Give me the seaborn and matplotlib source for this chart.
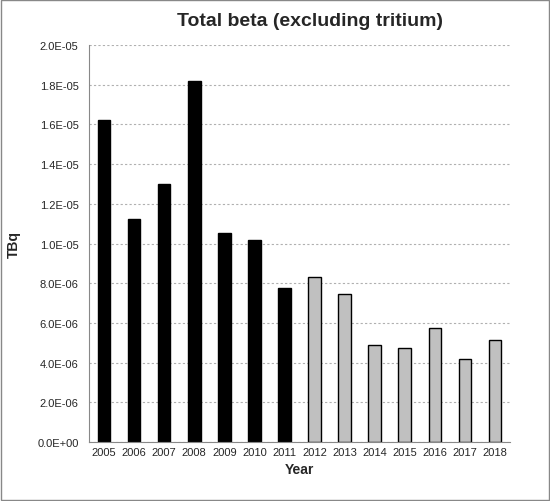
import matplotlib
matplotlib.use("Agg")
import matplotlib.pyplot as plt
import seaborn as sns
import pandas as pd
from matplotlib.ticker import FuncFormatter

years = ["2005","2006","2007","2008","2009","2010","2011","2012","2013","2014","2015","2016","2017","2018"]
values = [16.2e-6,11.25e-6,13.0e-6,18.2e-6,10.55e-6,10.2e-6,7.75e-6,8.3e-6,7.45e-6,4.9e-6,4.75e-6,5.75e-6,4.2e-6,5.15e-6]
group = ["a"]*7 + ["b"]*7

sns.set_style("white")
plt.rcParams['font.family'] = ['Liberation Sans', 'DejaVu Sans']
df = pd.DataFrame({"Year": years, "TBq": values, "g": group})

fig = plt.figure(figsize=(5.5, 5.02), dpi=100)
ax = fig.add_axes([89/550, 1-443/502, 421/550, 397/502])
sns.barplot(data=df, x="Year", y="TBq", hue="g", palette={"a": "black", "b": "#c0c0c0"},
            dodge=False, width=0.42, edgecolor="black", linewidth=1, legend=False, ax=ax)
ax.set_ylim(0, 2.0e-5)
ax.set_yticks([i*2e-6 for i in range(11)])
ax.yaxis.set_major_formatter(FuncFormatter(lambda v, p: f"{v:.1E}" if v else "0.0E+00"))
ax.yaxis.grid(True, linestyle=(0, (2, 2)), color="#b0b0b0", linewidth=0.8)
ax.set_axisbelow(True)
for s in ["top", "right"]:
    ax.spines[s].set_visible(False)
for s in ["left", "bottom"]:
    ax.spines[s].set_color("#888888")
ax.tick_params(axis="both", labelsize=8, length=4, color="#888888", direction="out")
ax.tick_params(axis="x", length=0)
ax.set_xticks([i - 0.5 for i in range(15)], minor=True)
ax.tick_params(axis="x", which="minor", length=5, color="#888888")
ax.set_xlim(-0.5, 13.5)
ax.set_xlabel("Year", fontsize=10, fontweight="bold")
ax.set_ylabel("TBq", fontsize=10, fontweight="bold", labelpad=12)
fig.text(310/550, 1-22/502, "Total beta (excluding tritium)", ha="center", va="center",
         fontsize=14, fontweight="bold")
fig.patches.append(plt.Rectangle((0.002, 0.002), 0.996, 0.996, transform=fig.transFigure,
                                 fill=False, edgecolor="#888888", linewidth=1))
fig.savefig("out.png", dpi=100)
